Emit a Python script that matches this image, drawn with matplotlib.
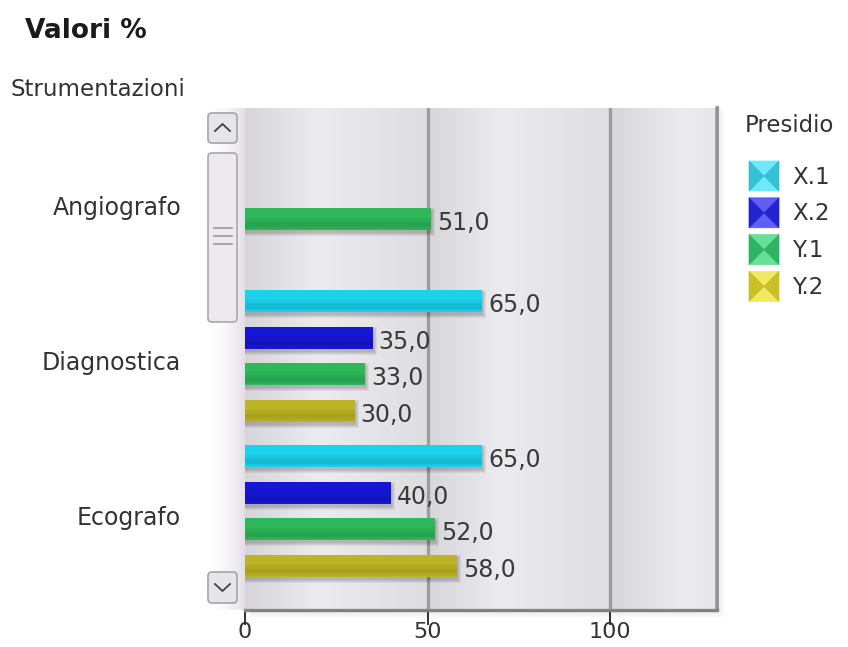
import numpy as np
import matplotlib
matplotlib.use("Agg")
import matplotlib.pyplot as plt
from matplotlib.patches import Rectangle, FancyBboxPatch, Polygon
from matplotlib.transforms import IdentityTransform, ScaledTranslation

# data
categories = ["Angiografo", "Diagnostica", "Ecografo"]
series = ["X.1", "X.2", "Y.1", "Y.2"]
values = {
    "X.1": [None, 65.0, 65.0],
    "X.2": [None, 35.0, 40.0],
    "Y.1": [51.0, 33.0, 52.0],
    "Y.2": [None, 30.0, 58.0],
}
xticks = [0, 50, 100]

bar_colors = {"X.1": "#1ad2ec", "X.2": "#1616d6", "Y.1": "#2db85a", "Y.2": "#bcb424"}
legend_colors = {"X.1": "#3ee2fa", "X.2": "#2a2af2", "Y.1": "#34d474", "Y.2": "#ece22e"}

W, H = 848, 647
fig = plt.figure(figsize=(W / 100, H / 100), dpi=100)
fig.patch.set_facecolor("white")
ident = IdentityTransform()


def P(x, y):
    # reference pixel coords (top-left origin) -> display coords
    return x, H - y


# light gradient column left of the plot
gax = fig.add_axes([205 / W, 1 - 610 / H, 40 / W, 502 / H])
grad = np.linspace(0, 1, 100) ** 2
col = np.zeros((1, 100, 3))
col[0, :, 0] = 1 - 0.11 * grad
col[0, :, 1] = 1 - 0.13 * grad
col[0, :, 2] = 1 - 0.09 * grad
gax.imshow(col, aspect="auto", extent=(0, 1, 0, 1))
gax.axis("off")

# plot shadows (right and bottom)
for i in range(8):
    a = 0.09 * (1 - i / 8)
    fig.patches.append(Rectangle(P(717 + i, 610 + i), 1, 505, transform=ident,
                                 color="black", alpha=a, lw=0))
    fig.patches.append(Rectangle(P(250, 611 + i), 467 + i, 1, transform=ident,
                                 color="black", alpha=a, lw=0))

xmax = (717 - 245) / 3.65
ax = fig.add_axes([245 / W, 1 - 610 / H, 472 / W, 502 / H])
ax.set_xlim(0, xmax)
ax.set_ylim(2.639, -0.6)

# cylinder-like shading per 50 band
xs = np.linspace(0, xmax, 600)
p = (xs % 50) / 50
b = np.where(p < 0.4, 0.84 + (0.925 - 0.84) * (p / 0.4),
             0.925 - (0.925 - 0.87) * ((p - 0.4) / 0.6))
bg = np.zeros((1, len(xs), 3))
bg[0, :, 0] = b
bg[0, :, 1] = b
bg[0, :, 2] = b + 0.015
ax.imshow(np.clip(bg, 0, 1), aspect="auto", extent=(0, xmax, 2.639, -0.6), zorder=0)

for g in [50, 100]:
    ax.axvline(g, color="#9c9c9c", lw=2.4, zorder=1)

group_pos = np.arange(len(categories))
offsets = [-0.354, -0.118, 0.118, 0.354]
bh = 0.142
px_x = 1 / 3.65
px_y = 1 / 155
for s, off in zip(series, offsets):
    ys, vs = [], []
    for i, v in enumerate(values[s]):
        if v is not None:
            ys.append(group_pos[i] + off)
            vs.append(v)
    ys = np.array(ys)
    vs = np.array(vs)
    # soft drop shadow
    for k in range(4):
        ax.barh(ys + 3 * px_y, vs + (1 + k) * px_x, height=bh + (2 * k) * px_y,
                color="black", alpha=0.06, lw=0, zorder=2)
    ax.barh(ys, vs, height=bh, color=bar_colors[s], lw=0, zorder=3)
    # subtle vertical gradient on the bar
    for k in range(5):
        ax.barh(ys + bh * (0.1 + 0.08 * k), vs, height=bh * 0.08 * (5 - k),
                color="black", alpha=0.03, lw=0, zorder=4)
    for y, v in zip(ys, vs):
        ax.text(v + 6 * px_x, y + 4 * px_y, f"{v:.1f}".replace(".", ","),
                va="center", ha="left", fontsize=17, color="#3a3a3a", zorder=5)

for side in ["top", "left"]:
    ax.spines[side].set_visible(False)
ax.spines["right"].set_color("#9a9a9a")
ax.spines["right"].set_linewidth(2.6)
ax.spines["bottom"].set_color("#8a8a8a")
ax.spines["bottom"].set_linewidth(2.4)

ax.set_xticks(xticks)
ax.set_xticklabels([str(t) for t in xticks])
ax.tick_params(axis="x", length=10.8, width=1.4, color="#303030", labelsize=16,
               labelcolor="#333333", pad=-2)
ax.set_yticks(group_pos)
ax.set_yticklabels(categories)
ax.tick_params(axis="y", length=0, pad=46, labelsize=17, labelcolor="#333333")
for lab in ax.get_yticklabels():
    lab.set_transform(lab.get_transform() + ScaledTranslation(0, -0.05, fig.dpi_scale_trans))

# scrollbar widget
def button(y0, y1):
    fig.patches.append(FancyBboxPatch(P(208, y1), 29, y1 - y0, boxstyle="round,pad=0,rounding_size=4",
                                      transform=ident, fc="#e6e5ea", ec="#a4a4a8", lw=1.2))

button(113, 143)
button(572, 603)
fig.patches.append(FancyBboxPatch(P(208, 322), 29, 322 - 153, boxstyle="round,pad=0,rounding_size=4",
                                  transform=ident, fc="#eceaef", ec="#a8a8ac", lw=1.2))
for gy in [228, 236, 244]:
    fig.lines.append(plt.Line2D([214, 232], [H - gy, H - gy], transform=ident,
                                color="#9a9a9a", lw=1.2))
fig.lines.append(plt.Line2D([215, 222.5, 230], [H - 131, H - 124, H - 131], transform=ident,
                            color="#404040", lw=1.3))
fig.lines.append(plt.Line2D([215, 222.5, 230], [H - 584, H - 591, H - 584], transform=ident,
                            color="#404040", lw=1.3))

# titles
fig.text(25 / W, 1 - 31 / H, "Valori %", fontsize=19, fontweight="bold",
         color="#1a1a1a", va="center", ha="left")
fig.text(10 / W, 1 - 90 / H, "Strumentazioni", fontsize=16.5, color="#333333",
         va="center", ha="left")

# legend
fig.text(745 / W, 1 - 125 / H, "Presidio", fontsize=16.5, color="#333333",
         va="center", ha="left")
for k, s in enumerate(series):
    cy = 176 + k * 36.8
    x0, x1, y0, y1 = 749, 779, cy - 15, cy + 15
    c = np.array(matplotlib.colors.to_rgb(legend_colors[s]))
    light = np.clip(c + (1 - c) * 0.25, 0, 1)
    dark = c * 0.85
    cx, cyd = (x0 + x1) / 2, H - cy
    tris = [
        ([(x0, H - y0), (x1, H - y0), (cx, cyd)], light),
        ([(x0, H - y1), (x1, H - y1), (cx, cyd)], light),
        ([(x0, H - y0), (x0, H - y1), (cx, cyd)], dark),
        ([(x1, H - y0), (x1, H - y1), (cx, cyd)], dark),
    ]
    for pts, fc in tris:
        fig.patches.append(Polygon(pts, closed=True, transform=ident, fc=fc, ec=fc, lw=0.5))
    fig.text(792 / W, 1 - (cy + 1) / H, s, fontsize=16.5, color="#333333",
             va="center", ha="left")

fig.savefig("out.png", dpi=100)
